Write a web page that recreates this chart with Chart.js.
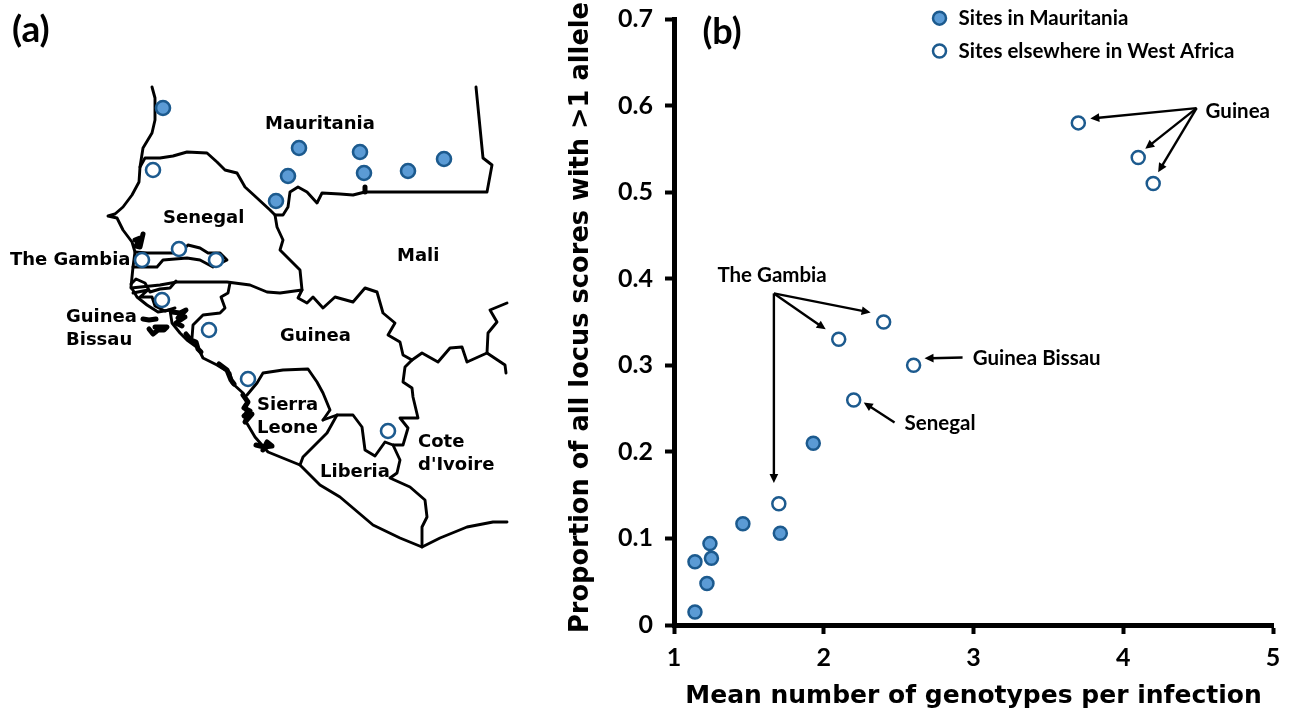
<!DOCTYPE html>
<html>
<head>
<meta charset="utf-8">
<title>Sites in West Africa</title>
<script src="https://cdn.jsdelivr.net/npm/chart.js@4"></script>
<style>
    html, body { margin: 0; padding: 0; background: #fff; }
    #page { position: relative; width: 1289px; height: 712px; overflow: hidden; }
    canvas { position: absolute; top: 0; filter: blur(0.4px); }
    #mapChart { left: 0; }
    #scatterChart { left: 520px; }
</style>
</head>
<body>
<div id="page">
    <canvas id="mapChart" width="520" height="712"></canvas>
    <canvas id="scatterChart" width="769" height="712"></canvas>
</div>
<script>
// Panel (b) values
const mauritaniaX = [1.14, 1.22, 1.14, 1.25, 1.24, 1.46, 1.71, 1.93];
const mauritaniaY = [0.015, 0.048, 0.073, 0.077, 0.094, 0.117, 0.106, 0.21];
const elsewhereX = [1.7, 2.1, 2.2, 2.4, 2.6, 3.7, 4.1, 4.2];
const elsewhereY = [0.14, 0.33, 0.26, 0.35, 0.3, 0.58, 0.54, 0.51];
const seriesNames = ['Sites in Mauritania', 'Sites elsewhere in West Africa'];
const xTicks = [1, 2, 3, 4, 5];
const yTicks = [0, 0.1, 0.2, 0.3, 0.4, 0.5, 0.6, 0.7];
const xTitle = 'Mean number of genotypes per infection';
const yTitle = '\u00a0Proportion of all locus scores with >1 allele';

// Panel (a) site positions, in map units
const mapMauritaniaX = [163, 299, 360, 288, 364, 408, 444, 276];
const mapMauritaniaY = [108, 148, 152, 176, 173, 171, 159, 201];
const mapElsewhereX = [153, 179, 216, 142, 162, 209, 248, 388];
const mapElsewhereY = [170, 249, 260, 260, 300, 330, 379, 431];

// Panel (a) outlines, in map units, as [x, y] vertices
const coastNorth = [[152,87],[155,98],[155,120],[152,133],[143,148],[140,167],[139,182],[132,195],[123,207],[115,214],[108,216],[117,218],[123,230],[132,242],[135,252],[133,267],[131,287],[137,297],[147,305],[158,312],[170,310],[172,323],[180,333],[187,340],[198,348],[203,358],[217,365],[230,373],[232,383],[243,393],[247,403],[245,420],[255,437],[268,452],[300,465],[320,485],[340,497],[373,525],[400,538],[422,547],[440,538],[467,527],[493,522],[507,522]];
const mauritaniaBorder = [[140,167],[145,158],[160,158],[173,156],[187,152],[207,153],[217,162],[225,170],[237,173],[245,187],[257,198],[270,210],[275,215],[283,215],[288,207],[290,192],[298,187],[307,192],[317,203],[322,193],[340,194],[353,195],[365,192],[487,192],[492,165],[483,158],[476,87]];
const senegalMali = [[275,215],[277,227],[283,240],[280,250],[290,260],[300,270],[302,290],[298,298],[307,303],[313,297],[323,308],[335,297],[353,302],[365,288],[377,292],[383,313],[395,323],[388,335],[400,342],[403,355],[412,360],[422,353],[438,362],[450,348],[462,347],[467,362],[487,353],[505,365],[506,373]];
const senegalSouth = [[131,288],[160,285],[177,282],[227,282],[250,285],[267,292],[280,293],[302,290]];
const guineaBissauEast = [[230,283],[228,293],[221,297],[225,308],[220,313],[203,315],[193,325],[192,338]];
const gambiaOutline = [[135,252],[147,253],[180,253],[188,245],[200,248],[208,253],[220,253],[227,260],[213,267],[200,260],[187,258],[163,260],[157,267],[133,267]];
const bissauNorth = [[131,284],[136,279],[145,283],[150,292],[160,289],[170,288],[176,281]];
const bissauSouth = [[133,293],[148,290],[140,297],[152,297],[155,306],[165,311],[175,308]];
const sierraNorth = [[247,395],[257,383],[263,373],[283,370],[308,369],[317,382],[323,393],[330,410],[323,420]];
const guineaLiberia = [[323,420],[337,415],[353,415],[362,427],[365,450],[375,456],[385,442],[393,445],[403,445],[408,428],[400,418],[418,418],[413,397],[412,388],[403,382],[405,367],[412,360]];
const sierraLiberia = [[337,415],[327,433],[303,457],[300,465]];
const liberiaCote = [[393,445],[400,460],[397,473],[390,478],[410,487],[425,500],[427,517],[422,527],[422,547]];
const burkina = [[487,353],[488,333],[497,322],[490,310],[507,303]];
const mapOutlines = [coastNorth, mauritaniaBorder, senegalMali, senegalSouth, guineaBissauEast, gambiaOutline,
    bissauNorth, bissauSouth, sierraNorth, guineaLiberia, sierraLiberia, liberiaCote, burkina];

// Dense coast and island clusters, drawn heavier
const nioroBlob = [[365,192],[365,187]];
const saloum = [[135,240],[140,238],[136,246],[140,247],[143,234]];
const rioCacheu = [[172,312],[180,313],[186,310],[178,318],[185,317],[176,323],[182,326]];
const bijagos = [[149,329],[153,334],[158,330],[164,330],[167,327],[155,327]];
const bijagosNorth = [[143,319],[149,320],[156,319]];
const rioNunez = [[186,334],[191,340],[196,342],[198,349],[201,352]];
const conakry = [[219,364],[227,370],[231,380],[234,384]];
const freetown = [[243,395],[248,402],[244,408],[250,411],[244,416],[252,414],[245,422]];
const sherbro = [[256,445],[264,447],[272,446],[267,442],[263,450]];
const mapClusters = [nioroBlob, saloum, rioCacheu, bijagos, bijagosNorth, rioNunez, conakry, freetown, sherbro];

const BLUE = '#5b9bd5';
const NAVY = '#1c5a8e';
const MAP_FONT = 'bold 18px "DejaVu Sans"';
const NOTE_FONT = 'bold 20.5px Lato';

// Country names on the map, map units
const mapLabels = [
    { text: '(a)', x: 12, y: 30, font: 'bold 37px Lato' },
    { text: 'Mauritania', x: 265, y: 124 },
    { text: 'Senegal', x: 163, y: 218 },
    { text: 'Mali', x: 397, y: 256 },
    { text: 'The Gambia', x: 10, y: 260 },
    { text: 'Guinea', x: 66, y: 317 },
    { text: 'Bissau', x: 66, y: 340 },
    { text: 'Guinea', x: 280, y: 336 },
    { text: 'Sierra', x: 257, y: 405 },
    { text: 'Leone', x: 257, y: 428 },
    { text: 'Liberia', x: 320, y: 472 },
    { text: 'Cote', x: 418, y: 442 },
    { text: "d'Ivoire", x: 418, y: 465 }
];

// Callouts on the scatter, axis units
const scatterLabels = [
    { text: '(b)', x: 1.19, y: 0.684, font: 'bold 36px Lato' },
    { text: seriesNames[0], x: 2.9, y: 0.701 },
    { text: seriesNames[1], x: 2.9, y: 0.663 },
    { text: 'Guinea', x: 4.55, y: 0.593 },
    { text: 'The Gambia', x: 1.29, y: 0.404 },
    { text: 'Guinea Bissau', x: 2.995, y: 0.308 },
    { text: 'Senegal', x: 2.54, y: 0.233 }
];
const scatterArrows = [
    [4.49, 0.597, 3.78, 0.585], [4.49, 0.597, 4.147, 0.55], [4.49, 0.597, 4.233, 0.523],
    [1.667, 0.383, 2.313, 0.361], [1.667, 0.383, 2.013, 0.3415], [1.667, 0.383, 1.667, 0.164],
    [2.927, 0.309, 2.673, 0.308],
    [2.473, 0.234, 2.267, 0.257]
];
const legendMarks = [
    { x: 2.773, y: 0.701, dataset: 0 },
    { x: 2.773, y: 0.663, dataset: 1 }
];

function toPoints(xs, ys) {
    return xs.map((x, i) => ({ x: x, y: ys[i] }));
}

function outlineSet(line, width) {
    return {
        data: line.map(p => ({ x: p[0], y: p[1] })),
        showLine: true,
        borderColor: '#000',
        borderWidth: width,
        borderJoinStyle: 'round',
        borderCapStyle: 'round',
        pointRadius: 0,
        tension: 0
    };
}

// Holds the plot box where the figure has it, whatever the tick labels ask for
const pinPlotPlugin = {
    id: 'pinPlot',
    afterLayout(chart, args, opts) {
        const area = chart.chartArea;
        const sx = chart.scales.x;
        const sy = chart.scales.y;
        area.left = opts.left;
        area.right = opts.right;
        area.top = opts.top;
        area.bottom = opts.bottom;
        area.width = opts.right - opts.left;
        area.height = opts.bottom - opts.top;
        sx.left = opts.left;
        sx.right = opts.right;
        sx.width = area.width;
        sx.top = opts.bottom;
        sx.bottom = chart.height;
        sx.height = chart.height - opts.bottom;
        sy.left = 0;
        sy.right = opts.left;
        sy.width = opts.left;
        sy.top = opts.top;
        sy.bottom = opts.bottom;
        sy.height = area.height;
        sx.configure();
        sy.configure();
    }
};

// Draws free text at scale positions
const labelsPlugin = {
    id: 'labels',
    afterDatasetsDraw(chart, args, opts) {
        const ctx = chart.ctx;
        ctx.save();
        ctx.fillStyle = '#000';
        ctx.textBaseline = 'middle';
        ctx.textAlign = 'left';
        opts.items.forEach(item => {
            ctx.font = item.font || opts.font;
            ctx.fillText(item.text, chart.scales.x.getPixelForValue(item.x), chart.scales.y.getPixelForValue(item.y));
        });
        ctx.restore();
    }
};

// Draws callout arrows and the legend markers on the scatter
const calloutPlugin = {
    id: 'callouts',
    afterDatasetsDraw(chart, args, opts) {
        const ctx = chart.ctx;
        const sx = chart.scales.x;
        const sy = chart.scales.y;
        ctx.save();
        ctx.strokeStyle = '#000';
        ctx.fillStyle = '#000';
        ctx.lineWidth = 2.4;
        opts.arrows.forEach(a => {
            const x0 = sx.getPixelForValue(a[0]);
            const y0 = sy.getPixelForValue(a[1]);
            const x1 = sx.getPixelForValue(a[2]);
            const y1 = sy.getPixelForValue(a[3]);
            const ang = Math.atan2(y1 - y0, x1 - x0);
            ctx.beginPath();
            ctx.moveTo(x0, y0);
            ctx.lineTo(x1 - 6 * Math.cos(ang), y1 - 6 * Math.sin(ang));
            ctx.stroke();
            ctx.beginPath();
            ctx.moveTo(x1, y1);
            ctx.lineTo(x1 - 10 * Math.cos(ang - 0.45), y1 - 10 * Math.sin(ang - 0.45));
            ctx.lineTo(x1 - 10 * Math.cos(ang + 0.45), y1 - 10 * Math.sin(ang + 0.45));
            ctx.closePath();
            ctx.fill();
        });
        opts.legend.forEach(m => {
            const ds = chart.data.datasets[m.dataset];
            ctx.beginPath();
            ctx.arc(sx.getPixelForValue(m.x), sy.getPixelForValue(m.y), ds.pointRadius, 0, Math.PI * 2);
            ctx.fillStyle = ds.pointBackgroundColor;
            ctx.fill();
            ctx.lineWidth = ds.pointBorderWidth;
            ctx.strokeStyle = ds.pointBorderColor;
            ctx.stroke();
        });
        ctx.restore();
    }
};

// Panel (a): the map
function createMap() {
    const siteStyle = { showLine: false, pointRadius: 7, pointBorderWidth: 2.6, pointBorderColor: NAVY };
    new Chart(document.getElementById('mapChart'), {
        type: 'scatter',
        data: {
            datasets: [
                Object.assign({ data: toPoints(mapMauritaniaX, mapMauritaniaY), pointBackgroundColor: BLUE }, siteStyle),
                Object.assign({ data: toPoints(mapElsewhereX, mapElsewhereY), pointBackgroundColor: '#fff' }, siteStyle)
            ].concat(mapOutlines.map(line => outlineSet(line, 2.9)), mapClusters.map(line => outlineSet(line, 5)))
        },
        options: {
            responsive: false,
            animation: false,
            layout: { padding: 0, autoPadding: false },
            scales: {
                x: { display: false, min: 0, max: 520 },
                y: { display: false, min: 0, max: 712, reverse: true }
            },
            plugins: {
                legend: { display: false },
                tooltip: { enabled: false },
                labels: { items: mapLabels, font: MAP_FONT }
            }
        },
        plugins: [labelsPlugin]
    });
}

// Panel (b): the scatter
function createScatter() {
    const tickFont = { family: 'Lato', size: 25, weight: 'bold' };
    const tickLine = { drawOnChartArea: false, drawTicks: true, tickLength: 9, tickWidth: 4, tickColor: '#000' };
    new Chart(document.getElementById('scatterChart'), {
        type: 'scatter',
        data: {
            datasets: [
                {
                    label: seriesNames[0],
                    data: toPoints(mauritaniaX, mauritaniaY),
                    pointRadius: 6.5,
                    pointBorderWidth: 2.5,
                    pointBorderColor: NAVY,
                    pointBackgroundColor: BLUE
                },
                {
                    label: seriesNames[1],
                    data: toPoints(elsewhereX, elsewhereY),
                    pointRadius: 6.5,
                    pointBorderWidth: 2.5,
                    pointBorderColor: NAVY,
                    pointBackgroundColor: '#fff'
                }
            ]
        },
        options: {
            responsive: false,
            animation: false,
            layout: { padding: { top: 19, right: 15, left: 0, bottom: 0 }, autoPadding: false },
            scales: {
                x: {
                    min: xTicks[0],
                    max: xTicks[xTicks.length - 1],
                    afterFit: scale => { scale.height = 87; },
                    afterBuildTicks: scale => { scale.ticks = xTicks.map(v => ({ value: v })); },
                    grid: tickLine,
                    border: { display: true, width: 5, color: '#000' },
                    ticks: { color: '#000', font: tickFont, padding: 9, maxRotation: 0 },
                    title: {
                        display: true,
                        text: xTitle,
                        color: '#000',
                        font: { family: 'DejaVu Sans', size: 25, weight: 'bold' },
                        padding: { top: 0, bottom: 1 }
                    }
                },
                y: {
                    min: yTicks[0],
                    max: yTicks[yTicks.length - 1],
                    afterFit: scale => { scale.width = 154; },
                    afterBuildTicks: scale => { scale.ticks = yTicks.map(v => ({ value: v })); },
                    grid: tickLine,
                    border: { display: true, width: 5, color: '#000' },
                    ticks: {
                        color: '#000',
                        font: tickFont,
                        padding: 12,
                        callback: v => (v === 0 ? '0' : v.toFixed(1))
                    },
                    title: {
                        display: true,
                        text: yTitle,
                        color: '#000',
                        font: { family: 'DejaVu Sans', size: 25.7, weight: 'bold' },
                        padding: { top: 46, bottom: 0 }
                    }
                }
            },
            plugins: {
                legend: { display: false },
                tooltip: { enabled: false },
                pinPlot: { left: 154, right: 753, top: 19, bottom: 625 },
                labels: { items: scatterLabels, font: NOTE_FONT },
                callouts: { arrows: scatterArrows, legend: legendMarks }
            }
        },
        plugins: [pinPlotPlugin, labelsPlugin, calloutPlugin]
    });
}

document.addEventListener('DOMContentLoaded', function() {
    createMap();
    createScatter();
});
</script>
</body>
</html>
